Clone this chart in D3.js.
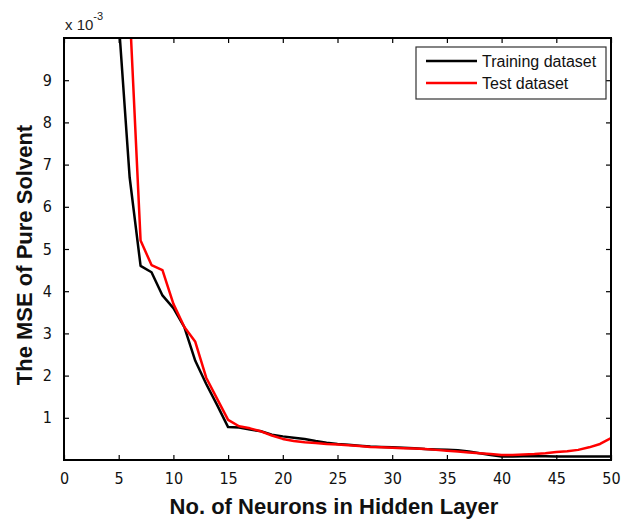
<!DOCTYPE html>
<html><head><meta charset="utf-8">
<script src="https://cdn.jsdelivr.net/npm/d3@7"></script>
<style>body{margin:0;background:#fff}svg{display:block;font-family:"Liberation Sans",Arial,sans-serif}</style>
</head><body>
<svg id="c" width="626" height="523"></svg>
<script>
const trainN = [5,6,7,8,9,10,11,12,13,14,15,16,17,18,19,20,21,22,23,24,25,26,27,28,29,30,31,32,33,34,35,36,37,38,39,40,41,42,43,44,45,46,47,48,49,50];
const trainMSE = [10.4,6.7,4.6,4.45,3.9,3.6,3.15,2.35,1.8,1.3,0.78,0.77,0.72,0.68,0.6,0.56,0.53,0.5,0.45,0.41,0.38,0.36,0.34,0.32,0.31,0.3,0.29,0.28,0.26,0.25,0.24,0.23,0.2,0.16,0.12,0.08,0.08,0.09,0.09,0.09,0.08,0.08,0.08,0.08,0.08,0.08];
const testN = [6,7,8,9,10,11,12,13,14,15,16,17,18,19,20,21,22,23,24,25,26,27,28,29,30,31,32,33,34,35,36,37,38,39,40,41,42,43,44,45,46,47,48,49,50];
const testMSE = [10.7,5.2,4.62,4.5,3.7,3.15,2.8,1.95,1.45,0.95,0.8,0.75,0.68,0.58,0.5,0.45,0.42,0.4,0.38,0.37,0.35,0.33,0.31,0.3,0.29,0.28,0.27,0.26,0.24,0.22,0.2,0.18,0.16,0.14,0.12,0.12,0.13,0.14,0.16,0.19,0.21,0.24,0.3,0.38,0.52];
const xTicks = [0,5,10,15,20,25,30,35,40,45,50];
const yTicks = [1,2,3,4,5,6,7,8,9];
const seriesNames = ["Training dataset","Test dataset"];
const seriesColors = ["#000000","#ff0000"];

const svg = d3.select("#c");
const L=64, R=611, T=38, B=460;
const x = d3.scaleLinear().domain([0,50]).range([L,R]);
const y = d3.scaleLinear().domain([0,10]).range([B,T]);

svg.append("defs").append("clipPath").attr("id","clip")
  .append("rect").attr("x",L).attr("y",T).attr("width",R-L).attr("height",B-T);

const tickFont = '"Liberation Sans Narrow","Arial Narrow","DejaVu Sans Condensed",sans-serif';
const fmt = d3.format("d");
svg.append("g").attr("transform",`translate(0,${B})`)
  .call(d3.axisBottom(x).tickValues(xTicks).tickSizeInner(-5).tickSizeOuter(0).tickPadding(13).tickFormat(fmt))
  .call(g=>g.select(".domain").remove())
  .call(g=>g.selectAll("text").attr("font-size",16).attr("font-family",tickFont).attr("fill","#111"));
svg.append("g").attr("transform",`translate(0,${T})`)
  .call(d3.axisTop(x).tickValues(xTicks).tickSizeInner(-5).tickSizeOuter(0).tickFormat(""))
  .call(g=>g.select(".domain").remove());
svg.append("g").attr("transform",`translate(${L},0)`)
  .call(d3.axisLeft(y).tickValues(yTicks).tickSizeInner(-5).tickSizeOuter(0).tickPadding(12).tickFormat(fmt))
  .call(g=>g.select(".domain").remove())
  .call(g=>g.selectAll("text").attr("font-size",16).attr("font-family",tickFont).attr("fill","#111"));
svg.append("g").attr("transform",`translate(${R},0)`)
  .call(d3.axisRight(y).tickValues(yTicks).tickSizeInner(-5).tickSizeOuter(0).tickFormat(""))
  .call(g=>g.select(".domain").remove());
svg.selectAll(".tick line").attr("stroke","#000").attr("stroke-width",1.2);

const line = d3.line().x(d=>x(d[0])).y(d=>y(d[1]));
const g = svg.append("g").attr("clip-path","url(#clip)");
g.append("path").datum(trainN.map((n,i)=>[n,trainMSE[i]]))
  .attr("d",line).attr("fill","none").attr("stroke",seriesColors[0]).attr("stroke-width",2.5).attr("stroke-linejoin","round");
g.append("path").datum(testN.map((n,i)=>[n,testMSE[i]]))
  .attr("d",line).attr("fill","none").attr("stroke",seriesColors[1]).attr("stroke-width",2.5).attr("stroke-linejoin","round");

svg.append("rect").attr("x",L).attr("y",T).attr("width",R-L).attr("height",B-T)
  .attr("fill","none").attr("stroke","#000").attr("stroke-width",2);

const ex = svg.append("text").attr("x",L+1).attr("y",30).attr("font-size",15).attr("fill","#222");
ex.append("tspan").text("x 10");
ex.append("tspan").attr("dy",-10).attr("font-size",11).text("-3");

const lg = svg.append("g");
lg.append("rect").attr("x",416).attr("y",47).attr("width",190).attr("height",52)
  .attr("fill","#fff").attr("stroke","#333").attr("stroke-width",1.2);
seriesNames.forEach((s,i)=>{
  const yy = 61 + i*22;
  lg.append("line").attr("x1",426).attr("x2",477).attr("y1",yy).attr("y2",yy)
    .attr("stroke",seriesColors[i]).attr("stroke-width",2.5);
  lg.append("text").attr("x",482).attr("y",yy+6).attr("font-size",16).attr("fill","#111").text(s);
});

svg.append("text").attr("x",334).attr("y",514).attr("text-anchor","middle")
  .attr("font-size",22).attr("font-weight","bold").attr("fill","#111").text("No. of Neurons in Hidden Layer");
svg.append("text").attr("transform",`translate(32,255) rotate(-90)`).attr("text-anchor","middle")
  .attr("font-size",22).attr("font-weight","bold").attr("fill","#111").text("The MSE of Pure Solvent");
</script>
</body></html>
